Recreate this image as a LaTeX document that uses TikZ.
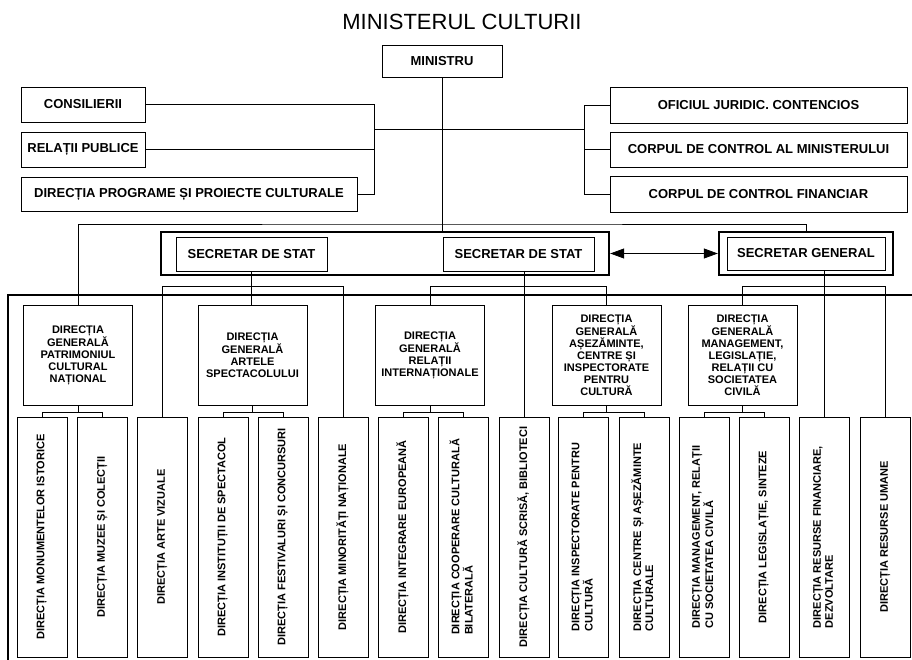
\documentclass[tikz,border=0pt]{standalone}
\usepackage{graphicx}
\usepackage{fontspec}
\setmainfont{Liberation Sans}
\usepackage{tikz}
\usetikzlibrary{arrows.meta, positioning}

\newcommand{\vdir}[1]{\rotatebox{90}{\begin{tabular}{@{}l@{}}#1\end{tabular}}}

\begin{document}
\begin{tikzpicture}[x=1pt, y=-1pt,
  box/.style={rectangle, draw, line width=0.9pt, inner sep=2pt,
              minimum height=35pt, font=\bfseries\fontsize{13}{15}\selectfont},
  dirbox/.style={rectangle, draw, line width=0.9pt, inner sep=2pt, align=center,
              minimum width=109pt, minimum height=100pt, font=\bfseries\fontsize{11}{12}\selectfont},
  vbox/.style={rectangle, draw, line width=0.9pt, inner sep=1pt,
              minimum width=50pt, minimum height=240pt, font=\bfseries\fontsize{11}{12}\selectfont},
  frame/.style={rectangle, draw, line width=2.4pt, minimum height=43pt},
  link/.style={line width=0.8pt},
  thickline/.style={line width=2pt},
  arrow/.style={{Triangle[length=14pt,width=10pt]}-{Triangle[length=14pt,width=10pt]}, line width=0.8pt}
]
\useasboundingbox (0,0) rectangle (912,660);

\node[font=\fontsize{22}{24}\selectfont] (title) at (462,22) {MINISTERUL CULTURII};
\node[box, minimum width=120pt, minimum height=32pt] (ministru) at (442,61) {MINISTRU};

% consilieri, relatii, programe
\node[box, minimum width=124pt] (consil) at (83,104.5) {CONSILIERII};
\node[box, minimum width=124pt] (relatii) at (83,149.5) {RELAȚII PUBLICE};
\node[box, minimum width=336pt, minimum height=34pt] (prog) at (189,194) {DIRECȚIA PROGRAME ȘI PROIECTE CULTURALE};

\node[box, minimum width=297pt, minimum height=36pt] (oficiul) at (758.5,105) {OFICIUL JURIDIC. CONTENCIOS};
\node[box, minimum width=297pt] (corpmin) at (758.5,149.5) {CORPUL DE CONTROL AL MINISTERULUI};
\node[box, minimum width=297pt, minimum height=36pt] (corpfin) at (758.5,194) {CORPUL DE CONTROL FINANCIAR};

\coordinate (lj) at (374,129);
\coordinate (rj) at (584,129);
\draw[link] (consil.east) -| (lj);
\draw[link] (prog.east) -| (lj);
\draw[link] (relatii.east) -- (relatii.east -| lj);
\draw[link] (lj) -- (rj);
\draw[link] (oficiul.west) -| (rj);
\draw[link] (corpfin.west) -| (rj);
\draw[link] (corpmin.west) -- (corpmin.west -| rj);

% secretari
\node[frame, minimum width=448pt] (sdsframe) at (385,253.5) {};
\node[box, minimum width=151pt, minimum height=34pt] (sds1) at (251.5,254) {SECRETAR DE STAT};
\node[box, minimum width=151pt, minimum height=34pt] (sds2) at (518.5,254) {SECRETAR DE STAT};
\node[frame, minimum width=174pt] (sgframe) at (806,253.5) {};
\node[box, minimum width=158pt, minimum height=33pt] (sg) at (806,253.5) {SECRETAR GENERAL};
\draw[arrow] (sdsframe.east) -- (sgframe.west);

\draw[link] (ministru.south) -- (ministru.south |- sdsframe.north);
\coordinate (bus) at (442,224);

% directii generale
\node[dirbox] (dgpat) at (78,355) {DIRECȚIA\\GENERALĂ\\PATRIMONIUL\\CULTURAL\\NAȚIONAL};
\node[dirbox] (dgart) at (252.5,355) {DIRECȚIA\\GENERALĂ\\ARTELE\\SPECTACOLULUI};
\node[dirbox] (dgri) at (430,355) {DIRECȚIA\\GENERALĂ\\RELAȚII\\INTERNAȚIONALE};
\node[dirbox] (dgase) at (606.5,355) {DIRECȚIA\\GENERALĂ\\AȘEZĂMINTE,\\CENTRE ȘI\\INSPECTORATE\\PENTRU\\CULTURĂ};
\node[dirbox] (dgman) at (742.5,355) {DIRECȚIA\\GENERALĂ\\MANAGEMENT,\\LEGISLAȚIE,\\RELAȚII CU\\SOCIETATEA\\CIVILĂ};

\draw[link] (dgpat.north) |- (bus) -| (sgframe.north);

% directii
\node[vbox] (mon) at (42,537) {\vdir{DIRECȚIA MONUMENTELOR ISTORICE}};
\node[vbox] (muz) at (102.5,537) {\vdir{DIRECȚIA MUZEE ȘI COLECȚII}};
\node[vbox] (artviz) at (162.5,537) {\vdir{DIRECȚIA ARTE VIZUALE}};
\node[vbox] (inst) at (223,537) {\vdir{DIRECȚIA INSTITUȚII DE SPECTACOL}};
\node[vbox] (fest) at (283,537) {\vdir{DIRECȚIA FESTIVALURI ȘI CONCURSURI}};
\node[vbox] (minor) at (343,537) {\vdir{DIRECȚIA MINORITĂȚI NAȚIONALE}};
\node[vbox] (integ) at (403,537) {\vdir{DIRECȚIA INTEGRARE EUROPEANĂ}};
\node[vbox] (coop) at (463,537) {\vdir{DIRECȚIA COOPERARE CULTURALĂ\\BILATERALĂ}};
\node[vbox] (scrisa) at (524,537) {\vdir{DIRECȚIA CULTURĂ SCRISĂ, BIBLIOTECI}};
\node[vbox] (insp) at (583.5,537) {\vdir{DIRECȚIA INSPECTORATE PENTRU\\CULTURĂ}};
\node[vbox] (centre) at (644,537) {\vdir{DIRECȚIA CENTRE ȘI AȘEZĂMINTE\\CULTURALE}};
\node[vbox] (mgmt) at (704,537) {\vdir{DIRECȚIA MANAGEMENT, RELAȚII\\CU SOCIETATEA CIVILĂ}};
\node[vbox] (legis) at (764,537) {\vdir{DIRECȚIA LEGISLAȚIE, SINTEZE}};
\node[vbox] (resfin) at (824.5,537) {\vdir{DIRECȚIA RESURSE FINANCIARE,\\DEZVOLTARE}};
\node[vbox] (resum) at (885.5,537) {\vdir{DIRECȚIA RESURSE UMANE}};

% cadrul mare
\coordinate (fr) at (912,295);
\coordinate (fl) at (8,295);
\coordinate (fb) at (8,660);
\draw[thickline] (fr) -- (fl) -- (fb);

% legaturi secretari
\coordinate (b1) at (0,286);
\draw[link] (sds1.south) -- (sds1.south |- dgart.north);
\draw[link] (artviz.north) |- (b1 -| minor.north) -- (minor.north);
\draw[link] (scrisa.north |- sds2.south) -- (scrisa.north);
\draw[link] (dgri.north) |- (b1 -| dgase.north) -- (dgase.north);
\draw[link] (resfin.north |- sg.south) -- (resfin.north);
\draw[link] (dgman.north) |- (b1 -| resum.north) -- (resum.north);

% legaturi directii generale
\coordinate (b2) at (0,412);
\draw[link] (dgpat.south) -- (dgpat.south |- b2);
\draw[link] (mon.north) |- (b2 -| muz.north) -- (muz.north);
\draw[link] (dgart.south) -- (dgart.south |- b2);
\draw[link] (inst.north) |- (b2 -| fest.north) -- (fest.north);
\draw[link] (dgri.south) -- (dgri.south |- b2);
\draw[link] (integ.north) |- (b2 -| coop.north) -- (coop.north);
\draw[link] (dgase.south) -- (dgase.south |- b2);
\draw[link] (insp.north) |- (b2 -| centre.north) -- (centre.north);
\draw[link] (dgman.south) -- (dgman.south |- b2);
\draw[link] (mgmt.north) |- (b2 -| legis.north) -- (legis.north);
\end{tikzpicture}
\end{document}
